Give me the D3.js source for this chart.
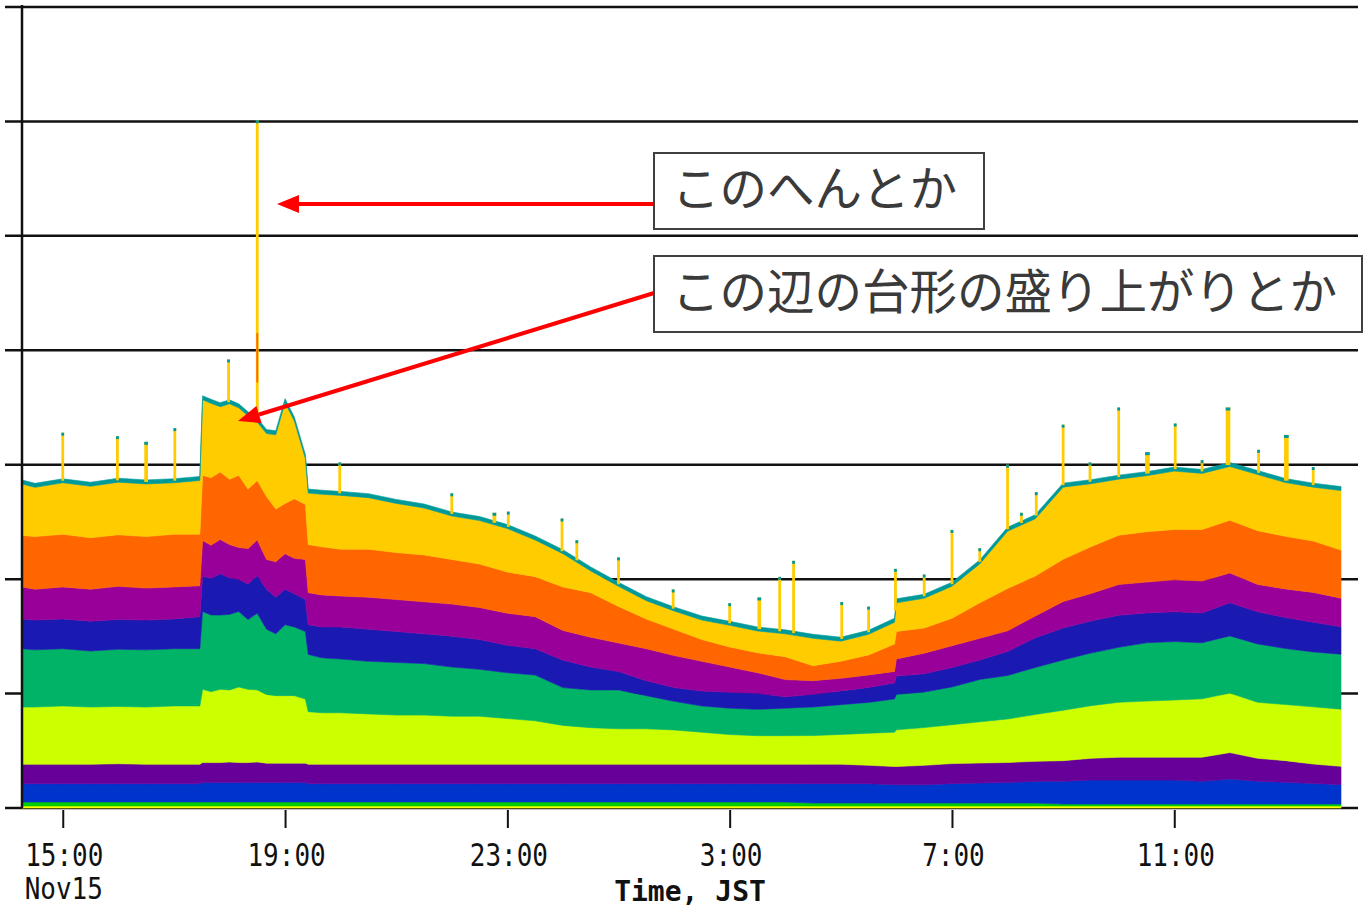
<!DOCTYPE html>
<html>
<head>
<meta charset="utf-8">
<script src="https://cdnjs.cloudflare.com/ajax/libs/d3/7.8.5/d3.min.js"></script>
<style>
  body { margin: 0; background: #fff; }
  svg { display: block; }
</style>
</head>
<body>
<svg id="chart" width="1364" height="908"></svg>
<script>
// sample times, minutes after 15:00 Nov15 (JST)
const minutes = [-44,-30,0,30,60,90,120,148,151,160,170,180,190,200,210,220,230,240,250,262,
  265,280,300,330,360,390,420,450,480,510,540,570,600,630,660,690,720,750,780,810,
  840,870,898,900,930,960,990,1020,1050,1080,1110,1140,1170,1200,1230,1260,1290,1320,1350,1380];

// stacked bands, bottom to top (100 = one grid line)
const bandYellow = [1.7,1.7,1.7,1.7,1.7,1.7,1.7,1.7,1.7,1.7,1.7,1.7,1.7,1.7,1.7,1.7,1.7,1.7,1.7,1.7,
  1.7,1.7,1.7,1.7,1.7,1.7,1.7,1.7,1.7,1.7,1.7,1.7,1.7,1.7,1.7,1.7,1.7,1.7,1.7,1.7,
  1.7,1.7,1.7,1.7,1.7,1.7,1.7,1.7,1.7,1.7,1.7,1.7,1.7,1.7,1.7,1.7,1.7,1.7,1.7,1.7];
const bandGreen = [3.5,3.5,3.5,3.5,3.5,3.5,3.5,3.5,3.5,3.5,3.5,3.5,3.5,3.5,3.5,3.5,3.5,3.5,3.5,3.5,
  3.5,3.5,3.5,3.5,3.5,3.5,3.5,3.5,3.5,3.5,3.5,3.5,3.5,3.5,3.5,3.5,3.5,3.5,3.5,2.6,
  2.6,2.6,2.6,2.6,2.6,2.6,2.6,2.6,2.6,1.7,1.7,1.7,1.7,1.7,1.7,1.7,1.7,1.7,1.7,1.7];
const bandBlue = [16,16,16,16,16,16,16,16,17,17,17,17,17,17,17,17,17,17,17,17,
  16,16,16,16,16,16,16,16,16,16,16,16,16,16,16,16,16,16,16,17,
  17,17,16,16,16,17,17.5,18,19,20,21,21,21,21,20,22,20,19,18,17];
const bandViolet = [17,17,17,17,17.5,17,17,17,17.5,17.5,17.5,18,17.5,17.5,18,17,17,17,17,17,
  17,17,17,17,17,17,17,17,17,17,17,17,17,17,17,17,17,17,17,17,
  17,16,16,16,17,17.5,17.5,17.5,17.5,18,19,20,20,20,21,23,20,19,17,16];
const bandLime = [50,50,51,50,50,50,51,51,64,62,64,63,66,64,63,60,59,59,59,56,
  46,45,45,44,43,43,42,42,40,38,34,32,31,31,30,28,26,25,25,25,
  26,28,30,32,33,34,36,38,41,44,46,48,49,50,51,52,49,49,50,50];
const bandEmerald = [51,50,50,49,50,50,50,50,68,67,65,66,66,61,67,57,54,62,60,59,
  50,48,47,46,46,45,43,41,40,40,33,33,34,29,25,23,23,23,24,25,
  26,27,29,31,31,33,37,38,41,44,46,48,51,51,49,50,51,49,48,48];
const bandNavy = [26,26,26,26,26,26,26,28,31,32,36,32,28,31,33,35,32,31,29,28,
  26,27,28,28,27,26,27,26,24,23,24,20,16,13,12,13,14,14,10,11,
  12,13,14,16,16,17,17,21,26,28,28,28,26,26,26,29,28,27,26,24];
const bandPurple = [28,27,28,28,29,28,28,27,31,29,30,29,28,31,31,26,31,31,31,35,
  28,28,27,28,28,28,28,28,28,28,26,26,25,28,28,26,22,18,15,12,
  11,11,10,15,18,19,19,18,19,23,24,27,27,28,28,26,24,25,26,25];
const bandOrange = [45,46,46,45,45,45,46,45,57,59,59,57,63,52,52,55,46,44,52,48,
  42,42,41,42,41,41,39,38,36,35,38,39,32,26,23,19,17.5,17.5,20,13,
  15,17.5,24,24,22,24,31,37,35,37,41,43,44,44,45,46,47,46,45,42];
const bandGold = [45,43,45,45,46,46,45,47,66,65,57,66,59,64,51,55,65,88,68,40,
  45,46,47,45,43,41,38,38,38,32,29,19,17.5,16,16,17,19,19,20,24,
  17.5,18,19,25,26,28,34,50,50,63,55,49,49,51,49,47,49,47,47,52];
const bandTeal = [3.5,3.5,3.5,3.5,3.5,3.5,3.5,3.5,3.5,3.5,3.5,3.5,3.5,3.5,3.5,3.5,3.5,3.5,3.5,3.5,
  3.5,3.5,3.5,3.5,3.5,3.5,3.5,3.5,3.5,3.5,3.5,3.5,3.5,3.5,3.5,3.5,3.5,3.5,3.5,3.5,
  3.5,3.5,3.5,3.5,3.5,3.5,3.5,3.5,3.5,3.5,3.5,3.5,3.5,3.5,3.5,3.5,3.5,3.5,3.5,3.5];

// short bursts poking out of the top band
const spikeMinutes = [0,59,90,121,179,210,299,420,466,481,539,555,600,659,720,752,774,789,841,870,
  899,930,960,990,1020,1035,1051,1080,1109,1140,1171,1201,1230,1258,1291,1321,1350];
const spikeTops = [328,325,320,332,392,601,302,275,258,259,253,234,219,191,179,184,202,216,180,176,
  209,204,243,227,300,258,276,335,302,350,311,336,304,350,313,326,298];
const spikeLength = [3,3,4,3,3,3,3,3,4,3,3,3,3,3,3,4,3,3,3,3,
  3,3,3,3,3,3,3,3,3,3,5,3,3,5,3,5,3];
// orange part inside the tallest burst (18:30)
const burstOrange = { m: 210, from: 372, to: 415 };

const gridValues = [0, 100, 200, 300, 400, 500, 600, 700];
const tickMinutes = [0, 240, 480, 720, 960, 1200];
const tickLabels = ["15:00", "19:00", "23:00", "3:00", "7:00", "11:00"];

const keys = ["yellow","green","blue","violet","lime","emerald","navy","purple","orange","gold","teal"];
const bands = [bandYellow, bandGreen, bandBlue, bandViolet, bandLime, bandEmerald,
  bandNavy, bandPurple, bandOrange, bandGold, bandTeal];
const colors = ["#ffff00","#00cc00","#0033cc","#660099","#ccff00","#00b366",
  "#1a1ab3","#990099","#ff6600","#ffcc00","#009999"];

const table = minutes.map((m, i) => {
  const row = { m: m };
  keys.forEach((k, j) => { row[k] = bands[j][i]; });
  return row;
});

const svg = d3.select("#chart");

const x = d3.scaleLinear().domain([-44, 1380]).range([22, 1341]);
const y = d3.scaleLinear().domain([0, 700]).range([808, 7]);

// grid lines, drawn first so the bands cover them
svg.append("g")
  .selectAll("line")
  .data(gridValues)
  .enter()
  .append("line")
  .attr("x1", 5)
  .attr("x2", 1358)
  .attr("y1", d => y(d))
  .attr("y2", d => y(d))
  .attr("stroke", "#111")
  .attr("stroke-width", 2.5);

const series = d3.stack().keys(keys)(table);

const area = d3.area()
  .x(d => x(d.data.m))
  .y0(d => y(d[0]))
  .y1(d => y(d[1]));

svg.append("g")
  .selectAll("path")
  .data(series)
  .enter()
  .append("path")
  .attr("d", area)
  .attr("fill", (d, i) => colors[i])
  .attr("stroke", (d, i) => colors[i])
  .attr("stroke-width", 0.6);

// top of the stack at any minute, for spike bases
const tops = series[series.length - 1].map(d => d[1]);
function topAt(m) {
  const i = d3.bisectLeft(minutes, m);
  if (i <= 0) return tops[0];
  if (i >= minutes.length) return tops[tops.length - 1];
  const t = (m - minutes[i - 1]) / (minutes[i] - minutes[i - 1]);
  return tops[i - 1] + t * (tops[i] - tops[i - 1]);
}

const spikes = spikeMinutes.map((m, i) => ({ m: m, top: spikeTops[i], len: spikeLength[i] }));
const spikeX = d => x(d.m - d.len / 2);
const spikeW = d => x(d.len) - x(0);

const spikeG = svg.append("g");
spikeG.selectAll("rect.body")
  .data(spikes)
  .enter()
  .append("rect")
  .attr("class", "body")
  .attr("x", spikeX)
  .attr("width", spikeW)
  .attr("y", d => y(d.top))
  .attr("height", d => y(topAt(d.m)) - y(d.top) + 2)
  .attr("fill", "#ffcc00");

spikeG.append("rect")
  .attr("x", x(burstOrange.m - 1))
  .attr("width", x(2) - x(0))
  .attr("y", y(burstOrange.to))
  .attr("height", y(burstOrange.from) - y(burstOrange.to))
  .attr("fill", "#ff6600");

spikeG.selectAll("rect.cap")
  .data(spikes)
  .enter()
  .append("rect")
  .attr("class", "cap")
  .attr("x", spikeX)
  .attr("width", spikeW)
  .attr("y", d => y(d.top))
  .attr("height", 3)
  .attr("fill", "#009999");

// vertical axis line
svg.append("line")
  .attr("x1", 22).attr("x2", 22)
  .attr("y1", 5).attr("y2", 808)
  .attr("stroke", "#111")
  .attr("stroke-width", 2.5);

// time axis
const xAxis = d3.axisBottom(x)
  .tickValues(tickMinutes)
  .tickSize(18)
  .tickFormat((d, i) => tickLabels[i]);

const axisG = svg.append("g")
  .attr("transform", "translate(0,810)")
  .call(xAxis);

axisG.select(".domain").remove();
axisG.selectAll(".tick line")
  .attr("stroke", "#111")
  .attr("stroke-width", 2);
axisG.selectAll(".tick text")
  .attr("y", null)
  .attr("dy", null)
  .attr("transform", "translate(1,56) scale(1,1.2)")
  .attr("fill", "#111")
  .style("font-family", "'DejaVu Sans Mono', monospace")
  .style("font-size", "26px");

svg.append("text")
  .attr("transform", `translate(${x(0) + 1},899) scale(1,1.15)`)
  .attr("text-anchor", "middle")
  .attr("fill", "#111")
  .style("font-family", "'DejaVu Sans Mono', monospace")
  .style("font-size", "26px")
  .text("Nov15");

svg.append("text")
  .attr("x", 690)
  .attr("y", 901)
  .attr("text-anchor", "middle")
  .attr("fill", "#111")
  .style("font-family", "'DejaVu Sans Mono', monospace")
  .style("font-size", "28px")
  .style("font-weight", "bold")
  .text("Time, JST");

// annotations
const notes = [
  { text: "このへんとか", x: 654, y: 153, w: 330, h: 76, from: [654, 204], to: [277, 204] },
  { text: "この辺の台形の盛り上がりとか", x: 654, y: 256, w: 708, h: 76, from: [654, 293], to: [238, 421] }
];

function arrow(from, to) {
  const dx = to[0] - from[0], dy = to[1] - from[1];
  const len = Math.hypot(dx, dy);
  const ux = dx / len, uy = dy / len;
  const headL = 22, headW = 9;
  const bx = to[0] - ux * headL, by = to[1] - uy * headL;
  svg.append("line")
    .attr("x1", from[0]).attr("y1", from[1])
    .attr("x2", bx).attr("y2", by)
    .attr("stroke", "#ff0000")
    .attr("stroke-width", 4);
  svg.append("polygon")
    .attr("points", [
      [to[0], to[1]],
      [bx - uy * headW, by + ux * headW],
      [bx + uy * headW, by - ux * headW]
    ].map(p => p.join(",")).join(" "))
    .attr("fill", "#ff0000");
}

notes.forEach(n => {
  arrow(n.from, n.to);
  svg.append("rect")
    .attr("x", n.x).attr("y", n.y)
    .attr("width", n.w).attr("height", n.h)
    .attr("fill", "#fff")
    .attr("stroke", "#404040")
    .attr("stroke-width", 2);
  svg.append("text")
    .attr("x", n.x + 18)
    .attr("y", n.y + 53)
    .attr("fill", "#3a3a3a")
    .style("font-family", "'Noto Sans CJK JP', sans-serif")
    .style("font-size", "47.5px")
    .style("font-weight", 400)
    .text(n.text);
});
</script>
</body>
</html>
